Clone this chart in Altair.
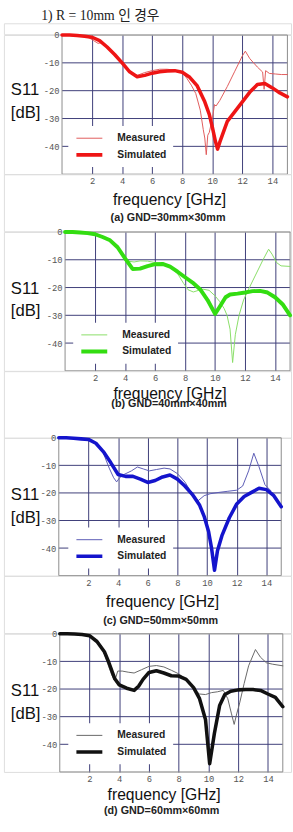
import altair as alt
import pandas as pd

# ---------------- text ----------------
TOP_TEXT = "1) R = 10mm 인 경우"
FIG_CAPTION = "그림 5. 3-10. 에서 시뮬레이션과 측정 결과의 비교"
X_TITLE = "frequency [GHz]"
Y_TITLE = ["S11", "[dB]"]
SERIES = ["Measured", "Simulated"]
CAPTIONS = ["(a) GND=30mm×30mm", "(b) GND=40mm×40mm",
            "(c) GND=50mm×50mm", "(d) GND=60mm×60mm"]
X_TICKS = [2, 4, 6, 8, 10, 12, 14]
Y_TICKS = [0, -10, -20, -30, -40]
Y_GRID = [-10, -20, -30, -40]
X_DOMAIN = [0, 15]
Y_DOMAIN = [-50, 0]

# ---------------- data (GHz, dB) ----------------
a_meas_f = [0, 0.5, 1, 1.5, 1.8, 2.1, 2.4, 2.7, 3, 3.5, 4, 4.5, 5, 5.5, 6, 6.5, 7, 7.5, 8, 8.3, 8.6, 8.9, 9.2, 9.4, 9.5, 9.6, 9.7, 9.8, 10, 10.15, 10.25, 10.5, 11, 11.5, 12, 12.2, 12.5, 13, 13.35, 13.45, 13.55, 13.8, 14.2, 14.6, 15]
a_meas_db = [0, 0, -0.2, -0.5, -1, -2, -3, -2.6, -4.3, -7, -10, -13.5, -14.5, -13.5, -12.8, -12.3, -12.3, -12.6, -13.5, -15.5, -18, -21, -27, -34, -37, -43, -36, -35, -30, -25, -25.5, -23.5, -18.5, -13, -7.5, -5.8, -8.5, -11.5, -13.3, -19.5, -12.8, -13.8, -14, -14.2, -14.2]
a_sim_f = [0, 0.5, 1, 1.5, 2, 2.5, 3, 3.5, 4, 4.5, 5, 5.5, 6, 6.5, 7, 7.5, 8, 8.5, 9, 9.5, 9.8, 10, 10.2, 10.35, 10.5, 10.8, 11, 11.5, 12, 12.5, 13, 13.5, 14, 14.5, 15]
a_sim_db = [0, 0, -0.2, -0.4, -0.8, -2, -4.3, -7, -10, -13.2, -15, -14.5, -13.7, -13.2, -12.9, -12.8, -13.4, -15.2, -18.3, -24, -28.5, -33, -38, -41, -38.5, -34, -31, -27.5, -24, -20.5, -17.8, -17.4, -19, -20.8, -22.2]

b_meas_f = [0, 0.5, 1, 1.5, 2, 2.5, 3, 3.5, 3.9, 4.2, 4.6, 5, 5.5, 6, 6.5, 7, 7.5, 7.9, 8.2, 8.55, 8.9, 9.2, 9.6, 10, 10.3, 10.6, 10.8, 11, 11.17, 11.35, 11.6, 11.9, 12.2, 12.7, 13.2, 13.57, 13.8, 14.1, 14.4, 15]
b_meas_db = [0, 0, -0.2, -0.4, -0.8, -1.8, -3, -5.5, -9, -10.5, -10.8, -10.4, -10.5, -11, -11.5, -12.8, -15, -18.5, -20.8, -21.6, -21, -20.6, -21, -23, -25, -27.5, -30, -35, -47, -37, -30, -24.5, -21, -15.5, -10, -6.2, -8, -11, -12.2, -12.4]
b_sim_f = [0, 0.5, 1, 1.5, 2, 2.5, 3, 3.5, 4, 4.5, 5, 5.5, 6, 6.5, 7, 7.5, 8, 8.5, 9, 9.5, 10, 10.3, 10.7, 11, 11.5, 12, 12.5, 13, 13.5, 14, 14.5, 15]
b_sim_db = [0, 0, -0.2, -0.4, -0.8, -1.8, -3, -5.5, -9.5, -13.3, -13.2, -12.3, -11.6, -11.5, -12.5, -14.3, -16.3, -18.2, -20.6, -24.5, -29.5, -27, -23.5, -22.5, -22.2, -21.8, -21.3, -21.2, -21.8, -23.5, -26, -30]

c_meas_f = [0, 0.5, 1, 1.5, 2, 2.5, 3, 3.4, 3.7, 3.9, 4.1, 4.4, 4.9, 5.3, 5.7, 6.1, 6.6, 7.1, 7.5, 8, 8.5, 8.9, 9.4, 9.8, 10.2, 10.8, 11.4, 12, 12.4, 12.8, 13.15, 13.5, 13.9, 14.3]
c_meas_db = [0, 0, -0.2, -0.4, -0.6, -2, -5.5, -11, -14.5, -16, -14.5, -13.3, -12, -10.6, -11.3, -12, -11.5, -11, -11.3, -13, -16, -19.5, -22.8, -21, -20.3, -19.8, -19.4, -19, -17.5, -12, -5.6, -10.5, -17, -19.2]
c_sim_f = [0, 0.5, 1, 1.5, 2, 2.5, 3, 3.5, 4, 4.5, 5, 5.5, 6, 6.5, 7, 7.5, 8, 8.5, 9, 9.5, 9.8, 10.1, 10.3, 10.5, 10.7, 11, 11.5, 12, 12.5, 13, 13.5, 14, 14.5, 15]
c_sim_db = [0, 0, -0.2, -0.4, -0.6, -2, -5, -9, -13.3, -14, -14, -15, -16.2, -15.5, -14.2, -13.5, -15, -17.5, -20.5, -24.5, -28.5, -34, -40, -48, -41, -35.5, -29, -24, -21.3, -19.8, -18.3, -18.8, -21, -25]

d_meas_f = [0, 0.5, 1, 1.5, 2, 2.5, 2.8, 3.05, 3.3, 3.5, 3.7, 3.9, 4.2, 4.6, 5, 5.5, 6, 6.5, 7, 7.5, 8, 8.5, 9, 9.4, 9.8, 10.2, 10.6, 11, 11.3, 11.55, 11.73, 11.9, 12.1, 12.4, 12.7, 13.16, 13.5, 13.9, 14.3, 15]
d_meas_db = [0, 0, -0.1, -0.3, -0.7, -2.3, -4.5, -8, -12, -15, -17, -13.5, -13.5, -13.9, -14.2, -13, -11.8, -11.5, -12, -13.2, -14.5, -16.5, -20, -21.8, -22, -21.3, -21, -20.5, -23.5, -29, -32.8, -29, -25, -18, -11.6, -5.7, -8.5, -10.5, -11, -11.6]
d_sim_f = [0, 0.5, 1, 1.5, 2, 2.5, 3, 3.3, 3.7, 4, 4.5, 5, 5.3, 5.6, 6, 6.5, 7, 7.5, 8, 8.5, 9, 9.4, 9.8, 10.08, 10.4, 10.75, 11.1, 11.5, 12, 12.5, 13, 13.5, 14, 14.5, 15]
d_sim_db = [0, 0, -0.1, -0.3, -0.7, -2.8, -6.5, -10.4, -16.3, -18.5, -19.7, -20.5, -19, -16.5, -14, -13.4, -14.2, -15.2, -15.3, -16.5, -19.5, -23.5, -31, -47, -36, -26, -22, -20.8, -20.3, -20.2, -20.2, -20.5, -21.8, -23, -26.4]

# ---------------- styling / layout ----------------
COLORS = [["#e05a5a", "#ee1515"], ["#88dd66", "#33dd11"],
          ["#5a5ab4", "#1414cc"], ["#666666", "#111111"]]
WIDTHS = [[1, 3.6], [1, 4], [1, 3.6], [1, 3.6]]
GRID = "#3c3c78"
LABEL_FONT = "Liberation Mono"
SANS = "Liberation Sans"
W = 293

GAPS = [11.2, 58.3, 68, 58.3]             # blank space above each panel
PLOT_H = [142, 141.7, 140.7, 141]
XR = [[59.3, 289.3], [62.4, 292], [56, 283], [57, 284.6]]
LEG_XY = [[65.7, 92.8], [70.7, 92.5], [65.7, 91.5], [65.7, 91.2]]
XT_XY = [[168.5, 26], [169, 23.3], [161.5, 26.6], [163, 23.3]]
YT_Y = [56, 57.7, 58, 58]
CAP_OFF = [11, 2.5, 11.7, 8.5]
CAP_DX = [21, 22, 13.5, 14.5]

DATA = [(a_meas_f, a_meas_db, a_sim_f, a_sim_db),
        (b_meas_f, b_meas_db, b_sim_f, b_sim_db),
        (c_meas_f, c_meas_db, c_sim_f, c_sim_db),
        (d_meas_f, d_meas_db, d_sim_f, d_sim_db)]


def spacer(h):
    return alt.Chart(pd.DataFrame({"v": [0]})).mark_point(opacity=0).encode(
        x=alt.value(0), y=alt.value(0)).properties(width=W, height=h)


def panel(i):
    mf, md, sf, sd = DATA[i]
    df = pd.DataFrame({
        "f": mf + sf,
        "s11": md + sd,
        "series": [SERIES[0]] * len(mf) + [SERIES[1]] * len(sf),
    })
    frame = pd.DataFrame({"x0": [X_DOMAIN[0]], "x1": [X_DOMAIN[1]],
                          "y0": [Y_DOMAIN[0]], "y1": [Y_DOMAIN[1]]})
    hg = pd.DataFrame({"g": Y_GRID, "x0": X_DOMAIN[0], "x1": X_DOMAIN[1]})
    xs = alt.Scale(domain=X_DOMAIN, range=XR[i], nice=False, zero=False)
    ys = alt.Scale(domain=Y_DOMAIN, nice=False, zero=False)
    xaxis = alt.Axis(values=X_TICKS, grid=True, gridColor=GRID, gridOpacity=1, gridWidth=1,
                     domain=False, ticks=False, labelPadding=3, labelFont=LABEL_FONT,
                     labelFontSize=9, labelColor="#555", labelFlush=False,
                     title=X_TITLE, titleX=XT_XY[i][0], titleY=XT_XY[i][1],
                     titleFont=SANS, titleFontSize=16, titleFontWeight="normal",
                     titleColor="#111", titleAlign="center", titleBaseline="middle")
    yaxis = alt.Axis(values=Y_TICKS, grid=False,
                     domain=False, ticks=False, labelPadding=3, labelFont=LABEL_FONT,
                     labelFontSize=9, labelColor="#555", labelExpr="'' + datum.value",
                     offset=-XR[i][0],
                     title=Y_TITLE, titleAngle=0, titleX=6.5 - XR[i][0], titleY=YT_Y[i],
                     titleAlign="left", titleBaseline="middle", titleFont=SANS,
                     titleFontSize=17, titleFontWeight="normal", titleColor="#111",
                     titleLineHeight=23)
    legend = alt.Legend(orient="none", legendX=LEG_XY[i][0], legendY=LEG_XY[i][1],
                        title=None, fillColor="white", padding=6, symbolType="stroke",
                        symbolSize=700, clipHeight=13, rowPadding=4, labelOffset=13,
                        labelFont=SANS, labelFontSize=10.5, labelFontWeight="bold",
                        labelColor="#222")
    hgrid = alt.Chart(hg).mark_rule(color=GRID, strokeWidth=1).encode(
        y=alt.Y("g:Q", scale=ys, axis=yaxis),
        x=alt.X("x0:Q", scale=xs, axis=xaxis),
        x2="x1",
    )
    fr = alt.Chart(frame).mark_rect(fillOpacity=0, stroke="#8a8a8a", strokeWidth=1).encode(
        x=alt.X("x0:Q", scale=xs, axis=xaxis),
        x2="x1",
        y=alt.Y("y0:Q", scale=ys, axis=yaxis),
        y2="y1",
    )
    lines = alt.Chart(df).mark_line(strokeJoin="round", strokeCap="round").encode(
        x=alt.X("f:Q", scale=xs, axis=xaxis),
        y=alt.Y("s11:Q", scale=ys, axis=yaxis),
        color=alt.Color("series:N", scale=alt.Scale(domain=SERIES, range=COLORS[i]),
                        legend=legend),
        strokeWidth=alt.StrokeWidth("series:N",
                                    scale=alt.Scale(type="point", domain=SERIES,
                                                    range=WIDTHS[i], padding=0),
                                    legend=legend),
        order="f:Q",
    )
    title_kw = dict(text=CAPTIONS[i], orient="bottom", frame="group", anchor="middle",
                    offset=CAP_OFF[i], dx=CAP_DX[i], baseline="middle",
                    font=SANS, fontSize=11, fontWeight="bold", color="#222")
    if i == 3:
        title_kw.update(subtitle=FIG_CAPTION, subtitleFont="Noto Sans CJK KR",
                        subtitleFontSize=12, subtitleColor="#222", subtitlePadding=17)
    return alt.layer(hgrid, fr, lines).properties(width=W, height=PLOT_H[i],
                                                  title=alt.Title(**title_kw))


parts = []
for i in range(4):
    parts.append(spacer(GAPS[i]))
    parts.append(panel(i))

chart = alt.vconcat(
    *parts,
    spacing=0, bounds="flush", padding=0,
    title=alt.Title(TOP_TEXT, orient="top", anchor="start", frame="group", offset=-9.5,
                    dx=38, baseline="middle", font="Liberation Serif, Noto Sans CJK KR",
                    fontSize=14, fontWeight="normal", color="#222"),
).resolve_scale(color="independent", strokeWidth="independent"
).resolve_legend(color="independent", strokeWidth="independent"
).configure_view(stroke=None).configure(background="white")

chart.save("out.html", embed_options={"renderer": "svg", "actions": False})
